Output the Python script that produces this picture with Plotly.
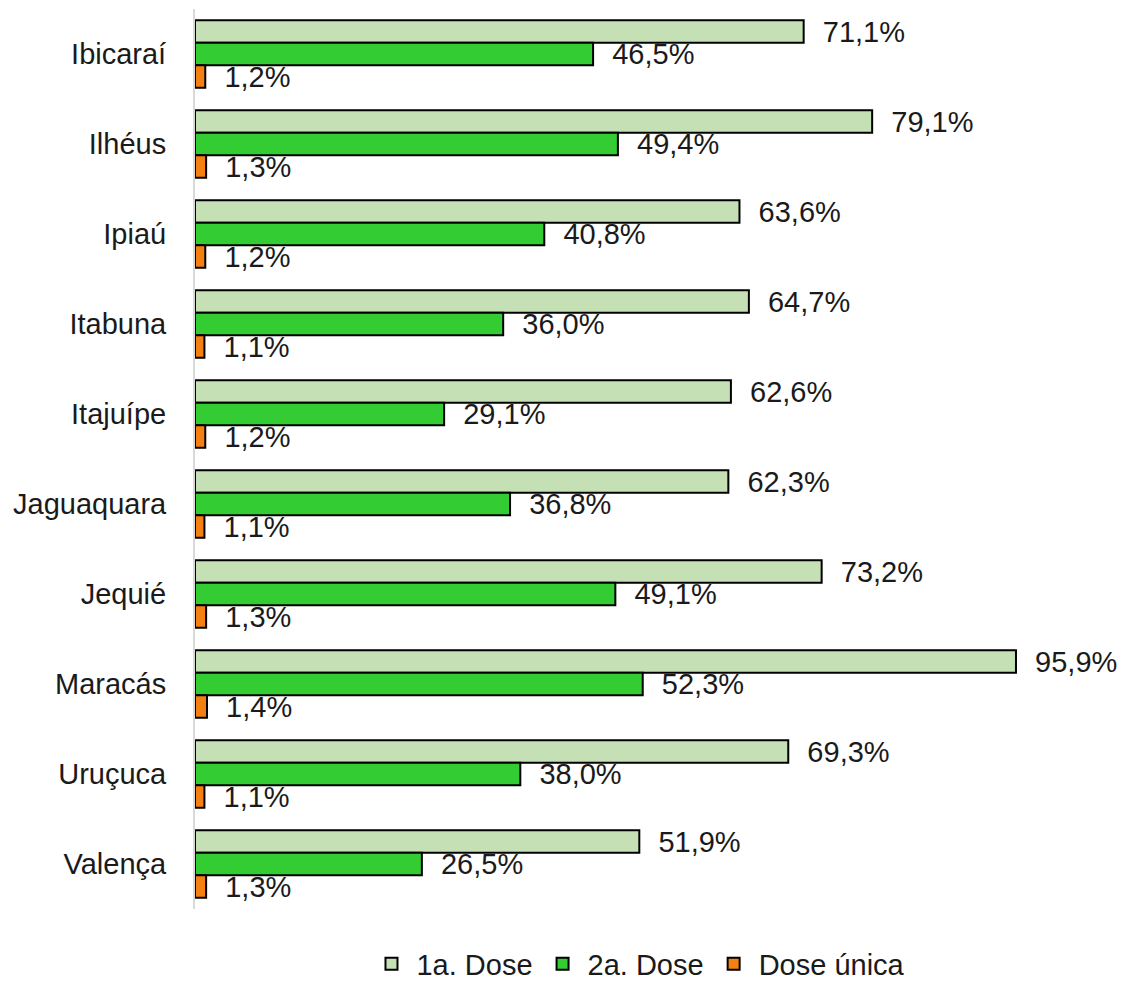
import plotly.graph_objects as go

# municipalities, top to bottom
cities = ["Ibicaraí", "Ilhéus", "Ipiaú", "Itabuna", "Itajuípe",
          "Jaguaquara", "Jequié", "Maracás", "Uruçuca", "Valença"]

dose1 = [71.1, 79.1, 63.6, 64.7, 62.6, 62.3, 73.2, 95.9, 69.3, 51.9]
dose2 = [46.5, 49.4, 40.8, 36.0, 29.1, 36.8, 49.1, 52.3, 38.0, 26.5]
dose_unica = [1.2, 1.3, 1.2, 1.1, 1.2, 1.1, 1.3, 1.4, 1.1, 1.3]

series = [
    ("1a. Dose", dose1, "#C5E0B4"),
    ("2a. Dose", dose2, "#33CC33"),
    ("Dose única", dose_unica, "#F58012"),
]

def pct(v):
    # brazilian decimal comma, nbsp pad so the label sits away from the bar end
    return "\u00a0\u00a0" + f"{v:.1f}".replace(".", ",") + "%"

fig = go.Figure()
for name, vals, color in series:
    fig.add_trace(go.Bar(
        name=name,
        y=cities,
        x=vals,
        orientation="h",
        marker=dict(color=color, line=dict(color="black", width=2)),
        text=[pct(v) for v in vals],
        textposition="outside",
        textangle=0,
        constraintext="none",
        cliponaxis=False,
        textfont=dict(size=29, color="#1a1a1a"),
    ))

# page body has an 8px margin, so the figure is 8px smaller than the window
fig.update_layout(
    width=1119,
    height=974,
    barmode="group",
    bargap=0.25,
    bargroupgap=0,
    plot_bgcolor="white",
    paper_bgcolor="white",
    font=dict(family="Liberation Sans, Arial, sans-serif", size=29, color="#1a1a1a"),
    margin=dict(l=187, r=10, t=1, b=73, autoexpand=False),
    legend=dict(orientation="h", x=0.481, xanchor="center", y=-0.061, yanchor="middle",
                font=dict(size=29), itemwidth=40, tracegroupgap=0),
)

fig.update_xaxes(range=[0, 107.7], showticklabels=False, showgrid=False,
                 zeroline=False, showline=False, automargin=False)
fig.update_yaxes(autorange="reversed", showline=True, linecolor="#D9D9D9", linewidth=2,
                 showgrid=False, ticks="", ticklabelstandoff=21, automargin=False)

fig.write_html("out.html")
